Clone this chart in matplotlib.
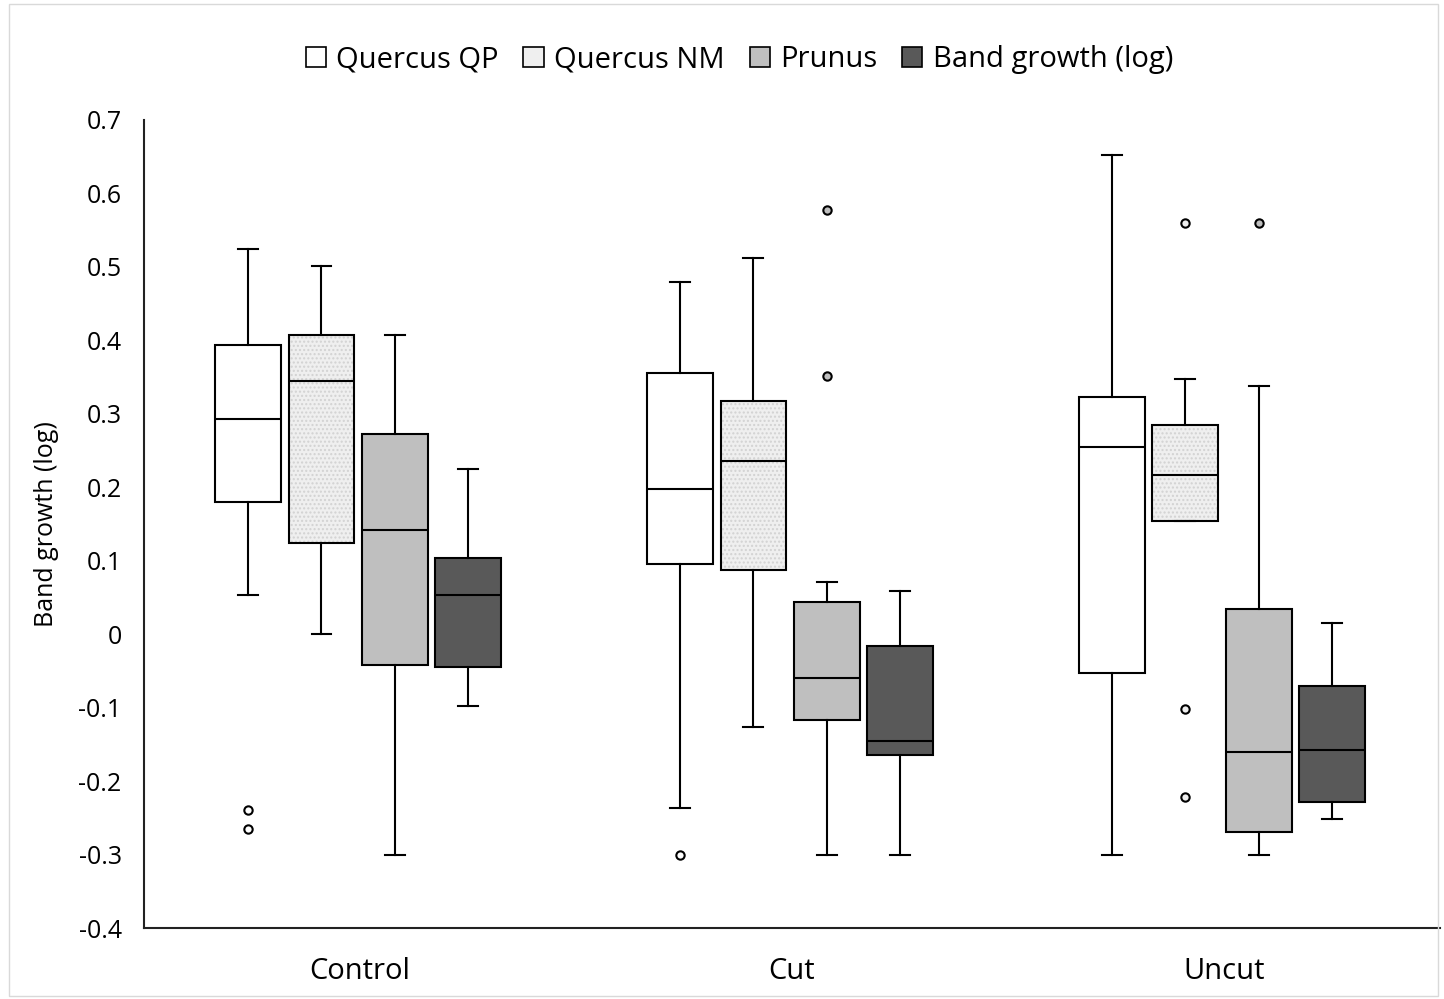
import matplotlib
matplotlib.use("Agg")
import matplotlib.pyplot as plt
from matplotlib.patches import PathPatch, Patch, Rectangle

plt.rcParams['font.family'] = ['Open Sans', 'DejaVu Sans']
plt.rcParams['hatch.linewidth'] = 1.0

categories = ["Control", "Cut", "Uncut"]
series = ["Quercus QP", "Quercus NM", "Prunus", "Band growth (log)"]
colors = ["#ffffff", "#efefef", "#bfbfbf", "#595959"]

# per series, per category: [whislo, q1, med, q3, whishi]
stats_qp = [[0.053, 0.180, 0.293, 0.393, 0.524],
            [-0.236, 0.096, 0.197, 0.355, 0.479],
            [-0.300, -0.053, 0.255, 0.323, 0.652]]
stats_nm = [[0.000, 0.124, 0.345, 0.407, 0.501],
            [-0.127, 0.087, 0.236, 0.317, 0.512],
            [0.154, 0.154, 0.216, 0.285, 0.347]]
stats_pr = [[-0.300, -0.042, 0.142, 0.272, 0.407],
            [-0.300, -0.117, -0.060, 0.044, 0.071],
            [-0.300, -0.269, -0.160, 0.034, 0.338]]
stats_bg = [[-0.098, -0.044, 0.053, 0.104, 0.225],
            [-0.300, -0.164, -0.146, -0.016, 0.059],
            [-0.252, -0.229, -0.158, -0.071, 0.015]]

out_qp = [[-0.239, -0.265], [-0.300], []]
out_nm = [[], [], [0.560, -0.102, -0.221]]
out_pr = [[], [0.577, 0.351], [0.560]]
out_bg = [[], [], []]

all_stats = [stats_qp, stats_nm, stats_pr, stats_bg]
all_out = [out_qp, out_nm, out_pr, out_bg]

fig = plt.figure(figsize=(14.44, 9.99), dpi=100)
fig.patches.append(Rectangle((0.006, 0.003), 0.99, 0.993, transform=fig.transFigure,
                             fill=False, edgecolor="#d9d9d9", linewidth=1.0))
ax = fig.add_axes([0.0997, 0.071, 0.8973, 0.809])

spacing = 0.17
width = 0.152
shift = -0.004
lw = 1.5

for i, (sname, col) in enumerate(zip(series, colors)):
    bxpstats = []
    positions = []
    for c in range(len(categories)):
        lo, q1, med, q3, hi = all_stats[i][c]
        bxpstats.append(dict(whislo=lo, q1=q1, med=med, q3=q3, whishi=hi,
                             fliers=all_out[i][c], label=""))
        positions.append(c + 0.5 + shift + (i - 1.5) * spacing)
    boxprops = dict(facecolor=col, edgecolor="black", linewidth=lw)
    if i == 1:
        boxprops = dict(facecolor=col, edgecolor="#d2d2d2", linewidth=0, hatch="....")
    res = ax.bxp(bxpstats, positions=positions, widths=width, patch_artist=True,
                 showfliers=True, capwidths=0.046,
                 boxprops=boxprops,
                 medianprops=dict(color="black", linewidth=lw),
                 whiskerprops=dict(color="black", linewidth=lw),
                 capprops=dict(color="black", linewidth=lw),
                 flierprops=dict(marker="o", markersize=6, markerfacecolor=col,
                                 markeredgecolor="black", markeredgewidth=1.5,
                                 linestyle="none"),
                 manage_ticks=False)
    if i == 1:
        for b in res["boxes"]:
            ax.add_patch(PathPatch(b.get_path(), fill=False, edgecolor="black",
                                   linewidth=lw, zorder=b.get_zorder() + 0.1))
        for m in res["medians"]:
            m.set_zorder(3)

ax.set_xlim(0, 3)
ax.set_ylim(-0.4, 0.7)
ax.set_xticks([0.5, 1.5, 2.5])
ax.set_xticklabels(categories, fontsize=21)
ax.tick_params(axis="x", length=0, pad=21)
yt = [-0.4, -0.3, -0.2, -0.1, 0, 0.1, 0.2, 0.3, 0.4, 0.5, 0.6, 0.7]
ax.set_yticks(yt)
ax.set_yticklabels([("0" if v == 0 else f"{v:.1f}") for v in yt], fontsize=18)
ax.tick_params(axis="y", length=0, pad=16)
ax.set_ylabel("Band growth (log)", fontsize=18, labelpad=14)
for s in ["top", "right"]:
    ax.spines[s].set_visible(False)
for s in ["left", "bottom"]:
    ax.spines[s].set_linewidth(1.5)
    ax.spines[s].set_color("#222222")

handles = [Patch(facecolor=col, edgecolor="black", linewidth=1.2, label=sname)
           for sname, col in zip(series, colors)]
fig.legend(handles=handles, loc="center", bbox_to_anchor=(0.512, 0.94), ncol=4,
           frameon=False, fontsize=21, handlelength=0.7, handleheight=0.7,
           handletextpad=0.35, columnspacing=0.85)

fig.savefig("out.png", dpi=100)
